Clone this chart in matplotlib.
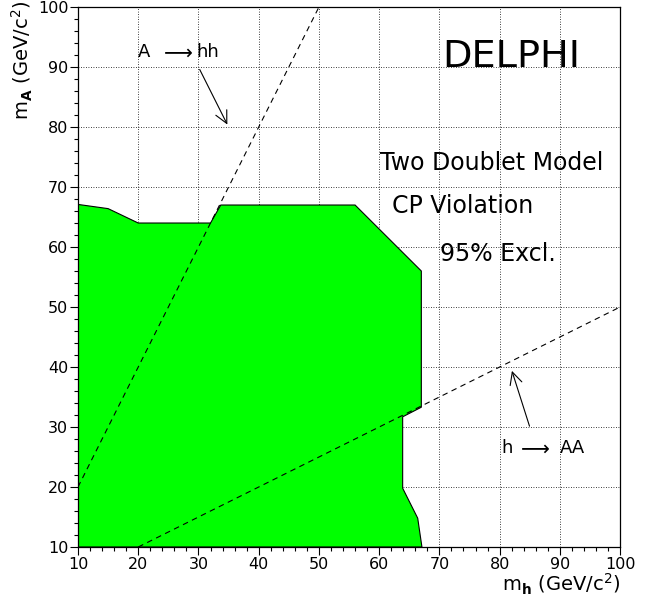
import matplotlib
matplotlib.use("Agg")
import matplotlib.pyplot as plt
from matplotlib.ticker import MultipleLocator

plt.rcParams['font.family'] = ['DejaVu Sans']
plt.rcParams['mathtext.fontset'] = 'dejavusans'

# Excluded region boundary (m_h, m_A)
excl_mh = [10, 15, 20, 32, 33.7, 56, 67, 67, 63.9, 63.9, 66.4, 67.1, 10]
excl_mA = [67.1, 66.4, 64, 64, 67, 67, 56, 33.3, 31.7, 19.8, 14.8, 10, 10]

# Kinematic thresholds
a_hh_mh = [10, 50]
a_hh_mA = [20, 100]
h_aa_mh = [20, 100]
h_aa_mA = [10, 50]

fig = plt.figure(figsize=(6.5, 5.96), dpi=100)
ax = fig.add_axes([0.12, 0.0822, 0.834, 0.906])

ax.fill(excl_mh, excl_mA, facecolor='#00ff00', edgecolor='black', linewidth=0.8, zorder=2)
ax.plot(a_hh_mh, a_hh_mA, color='black', linestyle=(0, (5, 4)), linewidth=0.8, zorder=3)
ax.plot(h_aa_mh, h_aa_mA, color='black', linestyle=(0, (5, 4)), linewidth=0.8, zorder=3)

ax.set_xlim(10, 100)
ax.set_ylim(10, 100)
ax.xaxis.set_major_locator(MultipleLocator(10))
ax.yaxis.set_major_locator(MultipleLocator(10))
ax.xaxis.set_minor_locator(MultipleLocator(2))
ax.yaxis.set_minor_locator(MultipleLocator(2))
ax.grid(True, which='major', color='black', linestyle=(0, (1, 2)), linewidth=0.6, zorder=1)
ax.set_axisbelow(True)
ax.tick_params(which='major', direction='out', length=6, width=0.8, labelsize=11.5, pad=1)
ax.tick_params(which='minor', direction='out', length=3, width=0.8)
for s in ax.spines.values():
    s.set_linewidth(0.9)

ax.set_xlabel(r'm$_{\mathbf{h}}$ (GeV/c$^{2}$)', fontsize=14)
ax.xaxis.set_label_coords(1.0, -0.046)
ax.xaxis.label.set_horizontalalignment('right')
ax.set_ylabel(r'm$_{\mathbf{A}}$ (GeV/c$^{2}$)', fontsize=14)
ax.yaxis.set_label_coords(-0.08, 1.012)
ax.yaxis.label.set_verticalalignment('bottom')
ax.yaxis.label.set_horizontalalignment('right')

ax.text(70.4, 90.05, 'DELPHI', fontsize=27.5, va='baseline', ha='left', zorder=4)
ax.text(60.2, 72.8, 'Two Doublet Model', fontsize=17, va='baseline', ha='left', zorder=4)
ax.text(62.1, 65.7, 'CP Violation', fontsize=17, va='baseline', ha='left', zorder=4)
ax.text(70.1, 57.7, '95% Excl.', fontsize=17, va='baseline', ha='left', zorder=4)

ax.text(19.9, 91.7, 'A', fontsize=13, va='baseline', ha='left', zorder=4)
ax.text(24.3, 91.45, '\u27f6', fontsize=14.5, va='baseline', ha='left', zorder=4)
ax.text(29.6, 91.7, 'hh', fontsize=13, va='baseline', ha='left', zorder=4)
ax.text(80.3, 25.6, 'h', fontsize=13, va='baseline', ha='left', zorder=4)
ax.text(83.6, 25.35, '\u27f6', fontsize=14.5, va='baseline', ha='left', zorder=4)
ax.text(90.0, 25.6, 'AA', fontsize=13, va='baseline', ha='left', zorder=4)

ax.annotate('', xy=(35, 80), xytext=(30, 90),
            arrowprops=dict(arrowstyle='->', color='black', lw=0.8, mutation_scale=22), zorder=4)
ax.annotate('', xy=(81.9, 39.8), xytext=(85.1, 29.7),
            arrowprops=dict(arrowstyle='->', color='black', lw=0.8, mutation_scale=22), zorder=4)

fig.savefig('out.png', dpi=100)
